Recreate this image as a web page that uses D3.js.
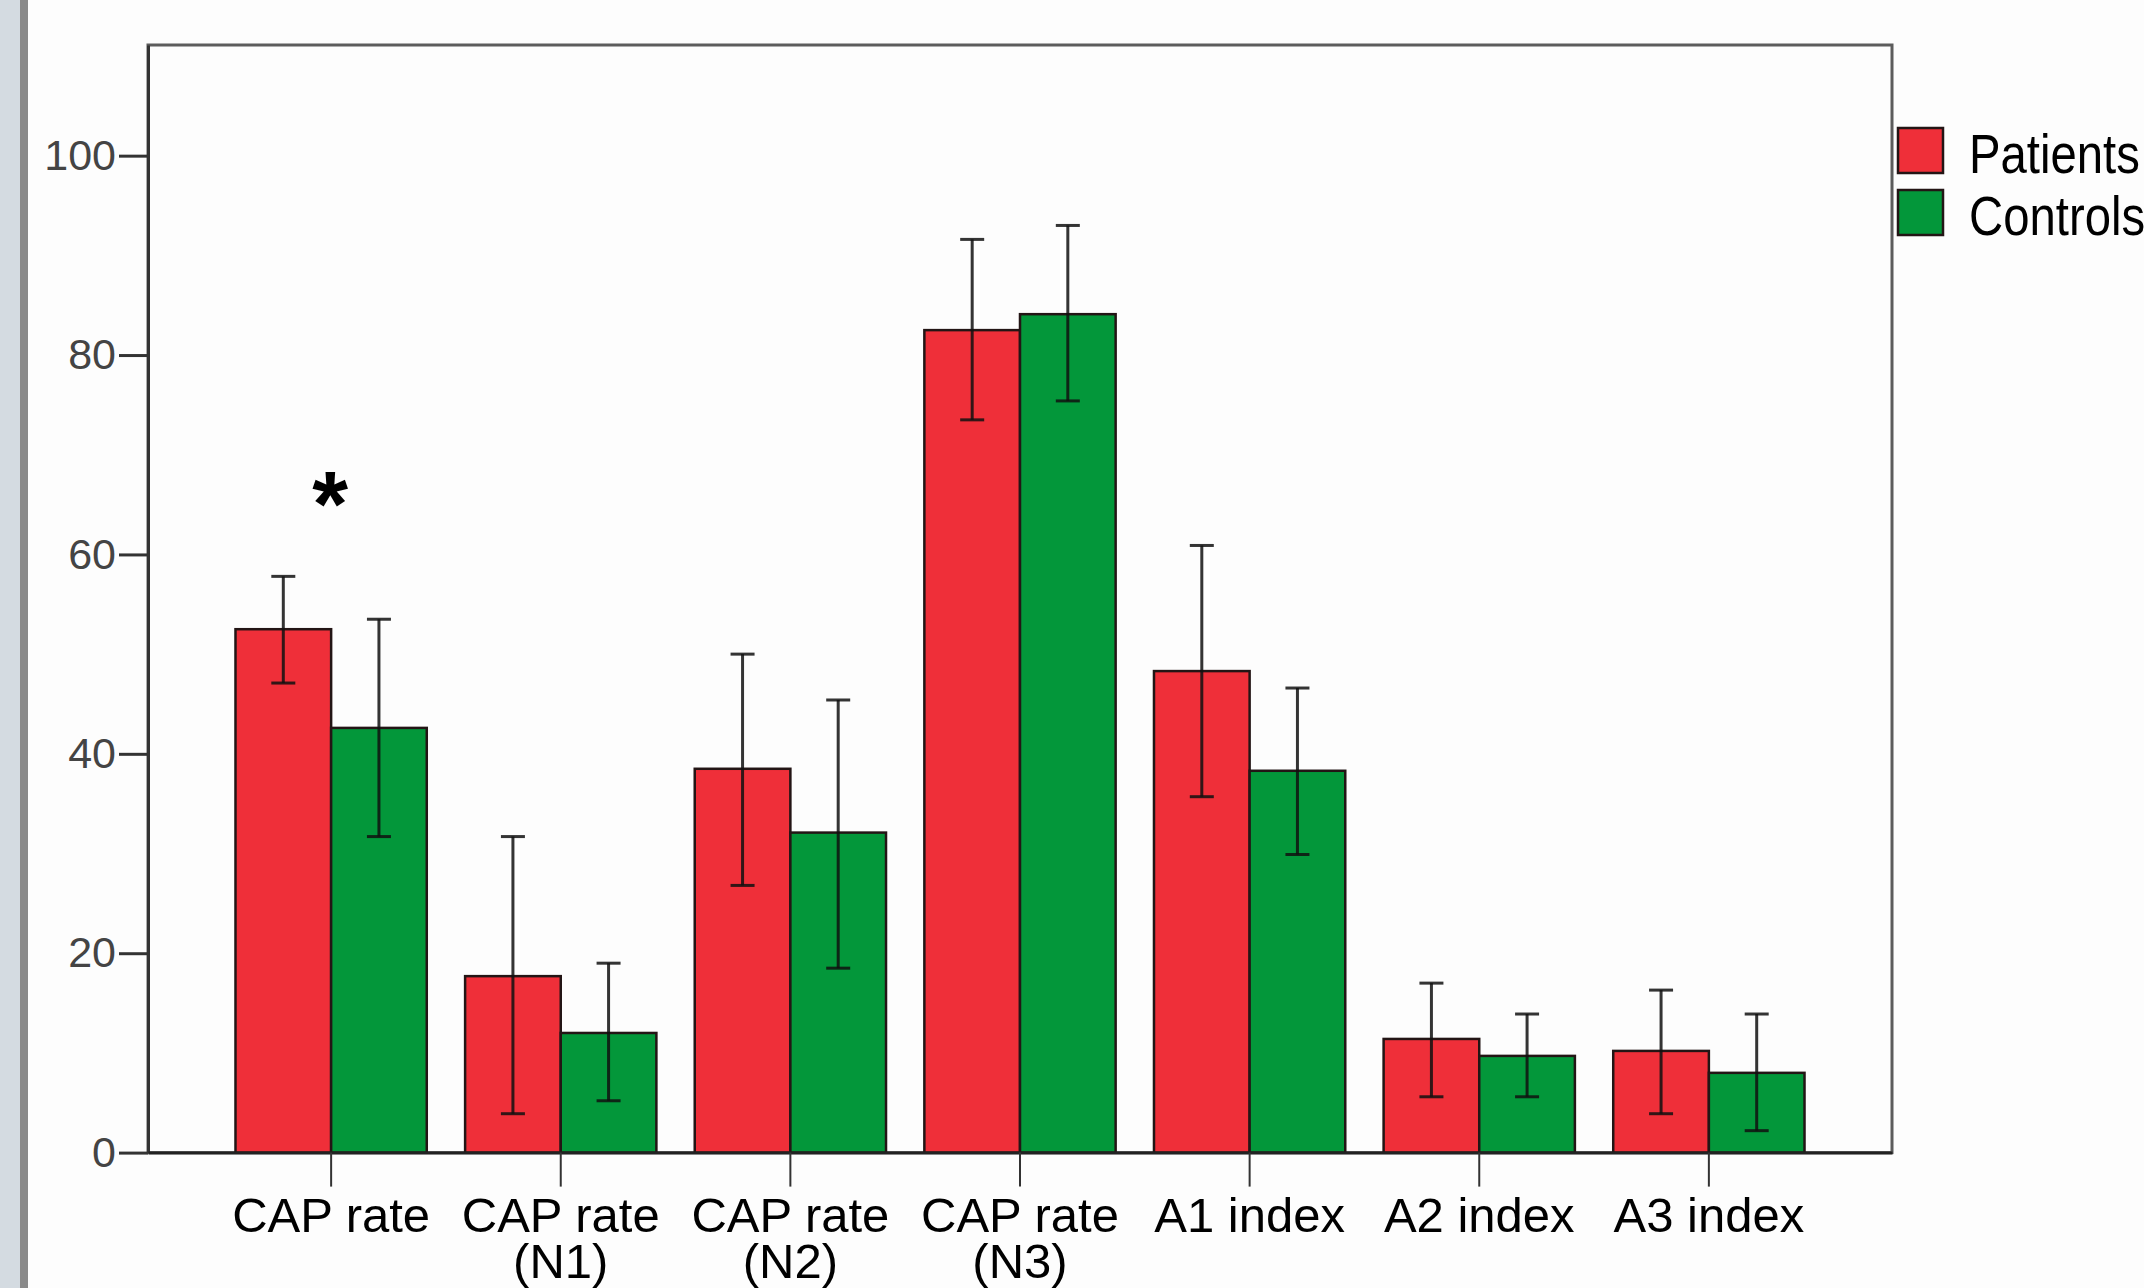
<!DOCTYPE html>
<html>
<head>
<meta charset="utf-8">
<script src="https://cdn.jsdelivr.net/npm/d3@7"></script>
<style>
  body { margin: 0; background: #fdfdfd; }
  svg { display: block; font-family: "Liberation Sans", Arial, sans-serif; }
</style>
</head>
<body>
<svg id="chart"></svg>
<script>
// values
var categories = ["CAP rate", "CAP rate (N1)", "CAP rate (N2)", "CAP rate (N3)", "A1 index", "A2 index", "A3 index"]
var groups = ["Patients", "Controls"]
var patients   = [52.5, 17.7, 38.5, 82.5, 48.3, 11.4, 10.2]
var patientsLo = [47.1,  3.9, 26.8, 73.5, 35.7,  5.6,  3.9]
var patientsHi = [57.8, 31.7, 50.0, 91.6, 60.9, 17.0, 16.3]
var controls   = [42.6, 12.0, 32.1, 84.1, 38.3,  9.7,  8.0]
var controlsLo = [31.7,  5.2, 18.5, 75.4, 29.9,  5.6,  2.2]
var controlsHi = [53.5, 19.0, 45.4, 93.0, 46.6, 13.9, 13.9]
var yTicks = [0, 20, 40, 60, 80, 100]
var yMax = 111.1
var significant = ["CAP rate"]
var sigLevel = 66.5

var width = 2144
var height = 1288
var margin = {top: 45, right: 252, bottom: 135.4, left: 148}
var colors = {Patients: "#ef2f39", Controls: "#03973a"}

var data = categories.map((c, i) => ({
  category: c,
  values: [
    {group: "Patients", v: patients[i], lo: patientsLo[i], hi: patientsHi[i]},
    {group: "Controls", v: controls[i], lo: controlsLo[i], hi: controlsHi[i]}
  ]
}))

var svg = d3.select("#chart")
    .attr("width", width)
    .attr("height", height)

// window edge on the left of the screenshot
svg.append("rect").attr("x", 0).attr("y", 0).attr("width", 20).attr("height", height).attr("fill", "#d4dbe1")
svg.append("rect").attr("x", 20).attr("y", 0).attr("width", 8).attr("height", height).attr("fill", "#8a8a8a")

var x0 = d3.scaleBand()
    .domain(categories)
    .range([margin.left, width - margin.right])
    .paddingInner(0.167)
    .paddingOuter(0.381)

var x1 = d3.scaleBand()
    .domain(groups)
    .range([0, x0.bandwidth()])

var y = d3.scaleLinear()
    .domain([0, yMax])
    .range([height - margin.bottom, margin.top])

// frame
svg.append("rect")
    .attr("x", margin.left)
    .attr("y", margin.top)
    .attr("width", width - margin.right - margin.left)
    .attr("height", height - margin.bottom - margin.top)
    .attr("fill", "none")
    .attr("stroke", "#5c5c5c")
    .attr("stroke-width", 3)

// y axis
svg.append("g")
    .attr("transform", `translate(${margin.left},0)`)
    .call(d3.axisLeft(y).tickValues(yTicks).tickSize(29).tickSizeOuter(0).tickPadding(3).tickFormat(d3.format("d")))
    .call(g => g.select(".domain").attr("stroke", "#333").attr("stroke-width", 3))
    .call(g => g.selectAll(".tick line").attr("stroke", "#333").attr("stroke-width", 3))
    .call(g => g.selectAll(".tick text")
        .attr("fill", "#444")
        .attr("font-size", 43)
        .attr("font-family", "Liberation Sans, Arial, sans-serif"))

// bars
var group = svg.append("g")
  .selectAll("g")
  .data(data)
  .join("g")
    .attr("transform", d => `translate(${x0(d.category)},0)`)

group.selectAll("rect")
  .data(d => d.values)
  .join("rect")
    .attr("x", d => x1(d.group))
    .attr("y", d => y(d.v))
    .attr("width", x1.bandwidth())
    .attr("height", d => y(0) - y(d.v))
    .attr("fill", d => colors[d.group])
    .attr("stroke", "#231515")
    .attr("stroke-width", 2.5)

// error bars
var err = group.selectAll("g.err")
  .data(d => d.values)
  .join("g")
    .attr("class", "err")
    .attr("stroke", "#111")
    .attr("stroke-opacity", 0.85)
    .attr("stroke-width", 3)

err.append("line")
    .attr("x1", d => x1(d.group) + x1.bandwidth() / 2)
    .attr("x2", d => x1(d.group) + x1.bandwidth() / 2)
    .attr("y1", d => y(d.lo))
    .attr("y2", d => y(d.hi))

err.selectAll("line.cap")
  .data(d => [d.lo, d.hi].map(v => ({group: d.group, v: v})))
  .join("line")
    .attr("class", "cap")
    .attr("x1", d => x1(d.group) + x1.bandwidth() / 2 - 12)
    .attr("x2", d => x1(d.group) + x1.bandwidth() / 2 + 12)
    .attr("y1", d => y(d.v))
    .attr("y2", d => y(d.v))

// x axis
svg.append("g")
    .attr("transform", `translate(0,${y(0)})`)
    .call(d3.axisBottom(x0).tickSize(34).tickSizeOuter(0).tickFormat(""))
    .call(g => g.select(".domain").attr("stroke", "#222").attr("stroke-width", 3))
    .call(g => g.selectAll(".tick line").attr("stroke", "#333").attr("stroke-width", 2))
    .call(g => g.selectAll(".tick").append("text")
        .attr("fill", "#000")
        .attr("font-size", 49)
        .attr("font-family", "Liberation Sans, Arial, sans-serif")
        .attr("text-anchor", "middle")
        .attr("y", 79)
        .selectAll("tspan")
        .data(d => d.split(" (").map((s, i) => i ? "(" + s : s))
        .join("tspan")
          .attr("x", 0)
          .attr("dy", (d, i) => i ? 46 : 0)
          .text(d => d))

// significance marker
svg.append("g")
  .selectAll("text")
  .data(significant)
  .join("text")
    .attr("x", d => x0(d) + x0.bandwidth() / 2 - 1)
    .attr("y", y(sigLevel))
    .attr("dy", 46)
    .attr("text-anchor", "middle")
    .attr("font-size", 92)
    .attr("font-weight", "bold")
    .attr("font-family", "Liberation Sans, Arial, sans-serif")
    .text("*")

// legend
var legend = svg.append("g")
    .attr("transform", `translate(${width - margin.right + 6},128)`)
  .selectAll("g")
  .data(groups)
  .join("g")
    .attr("transform", (d, i) => `translate(0,${i * 62})`)

legend.append("rect")
    .attr("width", 45)
    .attr("height", 45)
    .attr("fill", d => colors[d])
    .attr("stroke", "#231515")
    .attr("stroke-width", 2.5)

legend.append("text")
    .attr("transform", "translate(71,45) scale(0.86,1)")
    .attr("font-size", 55)
    .attr("font-family", "Liberation Sans, Arial, sans-serif")
    .attr("fill", "#000")
    .text(d => d)
</script>
</body>
</html>
